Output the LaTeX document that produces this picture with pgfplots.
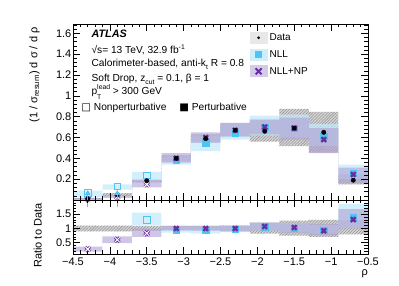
\documentclass[border=0pt]{standalone}
\usepackage{fontspec}
\setmainfont{Liberation Sans}
\setsansfont{Liberation Sans}
\newfontfamily\dejavu{DejaVu Sans}
\usepackage{pgfplots}
\usepackage{pgfplotstable}
\pgfplotsset{compat=1.18}
\usetikzlibrary{patterns,patterns.meta,arrows.meta}

\definecolor{nllc}{RGB}{80,195,245}
\definecolor{nllband}{RGB}{195,234,250}
\definecolor{npc}{RGB}{105,45,160}
\definecolor{npband}{RGB}{175,160,212}

% band outlines: upper edge (left to right), then lower edge (right to left), drawn as steps
\pgfplotstableread{
x y
-4.5 0.020
-4.1 0.065
-3.7 0.200
-3.3 0.428
-2.9 0.631
-2.5 0.737
-2.1 0.780
-1.7 0.876
-1.3 0.845
-0.9 0.245
-0.5 0.245
-0.5 0.150
-0.9 0.455
-1.3 0.518
-1.7 0.560
-2.1 0.603
-2.5 0.549
-2.9 0.372
-3.3 0.170
-3.7 0.035
-4.1 0.005
-4.5 0.005
}\topdata

\pgfplotstableread{
x y
-4.5 0.09
-4.1 0.15
-3.7 0.27
-3.3 0.42
-2.9 0.62
-2.5 0.74
-2.1 0.81
-1.7 0.82
-1.3 0.73
-0.9 0.34
-0.5 0.34
-0.5 0.20
-0.9 0.52
-1.3 0.60
-1.7 0.62
-2.1 0.58
-2.5 0.47
-2.9 0.34
-3.3 0.18
-3.7 0.10
-4.1 0.03
-4.5 0.03
}\topnll

\pgfplotstableread{
x y
-4.5 0.018
-4.1 0.045
-3.7 0.19
-3.3 0.45
-2.9 0.65
-2.5 0.74
-2.1 0.77
-1.7 0.79
-1.3 0.69
-0.9 0.31
-0.5 0.31
-0.5 0.16
-0.9 0.45
-1.3 0.58
-1.7 0.63
-2.1 0.61
-2.5 0.55
-2.9 0.36
-3.3 0.12
-3.7 0.02
-4.1 0.00
-4.5 0.00
}\topnp

\pgfplotstableread{
x d n p
-4.3 0.012 0.065 0.008
-3.9 0.050 0.130 0.030
-3.5 0.185 0.235 0.150
-3.1 0.400 0.380 0.400
-2.7 0.590 0.550 0.600
-2.3 0.670 0.640 0.670
-1.9 0.660 0.700 0.700
-1.5 0.690 0.690 0.690
-1.1 0.650 0.610 0.580
-0.7 0.190 0.255 0.245
}\toppts

\pgfplotstableread{
x y
-4.5 1.10
-4.1 1.10
-3.7 1.08
-3.3 1.07
-2.9 1.07
-2.5 1.10
-2.1 1.20
-1.7 1.27
-1.3 1.30
-0.9 1.29
-0.5 1.29
-0.5 0.79
-0.9 0.70
-1.3 0.75
-1.7 0.82
-2.1 0.90
-2.5 0.93
-2.9 0.93
-3.3 0.92
-3.7 0.90
-4.1 0.90
-4.5 0.90
}\ratdata

\pgfplotstableread{
x y
-3.7 1.56
-3.3 1.05
-2.9 1.05
-2.5 1.08
-2.1 1.20
-1.7 1.18
-1.3 1.12
-0.9 1.86
-0.5 1.86
-0.5 1.02
-0.9 0.82
-1.3 0.88
-1.7 0.95
-2.1 0.87
-2.5 0.82
-2.9 0.85
-3.3 1.10
-3.7 1.10
}\ratnll

\pgfplotstableread{
x y
-4.5 0.36
-4.1 0.72
-3.7 1.00
-3.3 1.10
-2.9 1.10
-2.5 1.10
-2.1 1.20
-1.7 1.18
-1.3 1.15
-0.9 1.68
-0.5 1.68
-0.5 1.00
-0.9 0.76
-1.3 0.85
-1.7 0.93
-2.1 0.90
-2.5 0.92
-2.9 0.93
-3.3 0.70
-3.7 0.48
-4.1 0.18
-4.5 0.18
}\ratnp

\pgfplotstableread{
x n p
-4.3 nan 0.27
-3.9 nan 0.60
-3.5 1.30 0.83
-3.1 0.95 1.00
-2.7 0.93 1.00
-2.3 0.96 1.00
-1.9 1.06 1.07
-1.5 1.00 1.03
-1.1 0.93 0.92
-0.7 1.38 1.31
}\ratpts

\pgfplotstableread{
x y v
-4.3 1.75 0.60
-3.9 1.75 0.60
}\ratarrows

\pgfplotsset{
  atlas/.style={
    scale only axis, width=295pt,
    xmin=-4.5, xmax=-0.5,
    xtick={-4.5,-4,-3.5,-3,-2.5,-2,-1.5,-1,-0.5},
    minor xtick={-4.5,-4.4,...,-0.5},
    tick align=inside, major tick length=7pt, minor tick length=3.5pt,
    tick style={black, line width=0.6pt},
    axis line style={line width=0.8pt},
    axis on top,
    tick label style={font=\fontsize{11}{13}\selectfont},
    every y tick label/.append style={inner xsep=1.5pt},
    /pgf/number format/assume math mode=true,
    label style={font=\fontsize{11}{13}\selectfont},
  },
  hatchband/.style={const plot, fill=gray!32, draw=none, postaction={pattern={Lines[angle=45,distance=2.1pt,line width=0.55pt]}, pattern color=gray!85}},
  nllbandst/.style={const plot, fill=nllband, fill opacity=0.75, draw=none},
  npbandst/.style={const plot, fill=npband, fill opacity=0.6, draw=none},
  swatch/.style={draw=none, draw opacity=0, line width=0pt, mark=none},
}
\newcommand{\txt}{\fontsize{10.2}{12}\selectfont}
\newcommand{\scr}{\fontsize{6.8}{7}\selectfont}

\begin{document}
\begin{tikzpicture}
\useasboundingbox (0pt,0pt) rectangle (399pt,286pt);

% ---------------- top panel ----------------
\begin{axis}[atlas,
  at={(73pt,86pt)}, anchor=south west, height=176pt,
  ymin=0, ymax=1.69,
  xticklabels={},
  ytick={0,0.2,0.4,0.6,0.8,1,1.2,1.4,1.6},
  yticklabels={,0.2,0.4,0.6,0.8,1,1.2,1.4,1.6},
  minor ytick={0,0.04,...,1.68},
  ylabel={(1 / σ\textsubscript{resum}) d σ / d ρ},
  ylabel style={at={(axis description cs:-0.13,1)}, anchor=east},
  legend style={at={(axis description cs:0.598,0.958)}, anchor=north west, draw=none, fill=none, inner sep=0pt,
    font=\fontsize{10}{11}\selectfont, row sep=4.4pt},
  legend cell align=left,
]
\addplot[hatchband, forget plot] table[x=x,y=y]{\topdata};
\addplot[nllbandst, forget plot] table[x=x,y=y]{\topnll};
\addplot[npbandst, forget plot] table[x=x,y=y]{\topnp};

% NLL markers
\addplot[forget plot, only marks, mark=square, mark size=3.3pt, nllc, mark options={line width=0.9pt}, restrict x to domain=-5:-3.3] table[x=x,y=n]{\toppts};
\addplot[forget plot, only marks, mark=square*, mark size=3.1pt, nllc, restrict x to domain=-3.3:0] table[x=x,y=n]{\toppts};
% NLL+NP markers
\addplot[forget plot, only marks, mark=x, mark size=3.4pt, npc, mark options={line width=2.6pt}, restrict x to domain=-5:-3.3] table[x=x,y=p]{\toppts};
\addplot[forget plot, only marks, mark=x, mark size=3.4pt, white, mark options={line width=1.0pt}, restrict x to domain=-5:-3.3] table[x=x,y=p]{\toppts};
\addplot[forget plot, only marks, mark=x, mark size=3.3pt, npc, mark options={line width=2.3pt}, restrict x to domain=-3.3:0] table[x=x,y=p]{\toppts};
% Data
\addplot[forget plot, only marks, mark=*, mark size=2.2pt, black] table[x=x,y=d]{\toppts};

% legend
\addlegendimage{swatch, legend image code/.code={
  \path[fill=gray!18, draw=none] (0pt,-6pt) rectangle (18pt,6pt);
  \path[draw=none, pattern={Lines[angle=45,distance=2.2pt,line width=0.45pt]}, pattern color=gray!65] (0pt,-6pt) rectangle (18pt,6pt);
  \path[fill=black, draw=none] (9pt,0pt) circle (1.5pt);}}
\addlegendentry{Data}
\addlegendimage{swatch, legend image code/.code={
  \path[fill=nllband!80, draw=none] (0pt,-6pt) rectangle (18pt,6pt);
  \path[fill=nllc, draw=none] (5.5pt,-3.5pt) rectangle (12.5pt,3.5pt);}}
\addlegendentry{NLL}
\addlegendimage{swatch, legend image code/.code={
  \path[fill=npband!55, draw=none] (0pt,-6pt) rectangle (18pt,6pt);
  \path[draw=npc, draw opacity=1, line width=2pt] (6pt,-3pt) -- (12pt,3pt) (6pt,3pt) -- (12pt,-3pt);}}
\addlegendentry{NLL+NP}

\node[anchor=base west, font=\fontsize{10.8}{12}\selectfont\bfseries\itshape] at (axis description cs:0.051,0.926) {ATLAS};
\node[anchor=base west, font=\txt] at (axis description cs:0.051,0.835) {√s= 13 TeV, 32.9 fb\raisebox{4pt}{\scr -1}};
\node[anchor=base west, font=\txt] at (axis description cs:0.051,0.756) {Calorimeter-based, anti-k\raisebox{-3pt}{\scr t} R = 0.8};
\node[anchor=base west, font=\txt] at (axis description cs:0.051,0.676) {Soft Drop, z\raisebox{-3.5pt}{\scr cut} = 0.1, β = 1};
\node[anchor=base west, font=\txt] at (axis description cs:0.051,0.599) {p\rlap{\raisebox{-4.5pt}{\scr T}}\raisebox{5.5pt}{\scr lead} > 300 GeV};
\node[anchor=base west, font=\txt, inner xsep=0pt] at (axis description cs:0.028,0.511) {{\dejavu □} Nonperturbative};
\node[anchor=base west, font=\txt, inner xsep=0pt] at (axis description cs:0.36,0.511) {{\dejavu ■} Perturbative};
\end{axis}

% ---------------- ratio panel ----------------
\begin{axis}[atlas,
  at={(73pt,32pt)}, anchor=south west, height=54pt,
  ymin=0.1, ymax=2.0, clip=false,
  xticklabels={−4.5,−4,−3.5,−3,−2.5,−2,−1.5,−1,−0.5},
  ytick={0.5,1,1.5}, yticklabels={0.5,1,1.5},
  minor ytick={0.1,0.2,...,2.0},
  ylabel={Ratio to Data},
  ylabel style={at={(axis description cs:-0.12,1)}, anchor=east},
  xlabel={ρ},
  xlabel style={at={(axis description cs:1,0)}, anchor=north east, yshift=-14pt, inner xsep=0pt, inner ysep=1pt},
]
\addplot[hatchband] table[x=x,y=y]{\ratdata};
\addplot[nllbandst] table[x=x,y=y]{\ratnll};
\addplot[npbandst] table[x=x,y=y]{\ratnp};

\addplot[only marks, mark=square, mark size=3.3pt, nllc, mark options={line width=0.9pt}, restrict x to domain=-5:-3.3] table[x=x,y=n]{\ratpts};
\addplot[only marks, mark=square*, mark size=3.1pt, nllc, restrict x to domain=-3.3:0] table[x=x,y=n]{\ratpts};
\addplot[only marks, mark=x, mark size=3.4pt, npc, mark options={line width=2.6pt}, restrict x to domain=-5:-3.3] table[x=x,y=p]{\ratpts};
\addplot[only marks, mark=x, mark size=3.4pt, white, mark options={line width=1.0pt}, restrict x to domain=-5:-3.3] table[x=x,y=p]{\ratpts};
\addplot[only marks, mark=x, mark size=3.3pt, npc, mark options={line width=2.3pt}, restrict x to domain=-3.3:0] table[x=x,y=p]{\ratpts};
\addplot[nllc, line width=1pt, mark=none, quiver={u=0, v=\thisrow{v}, every arrow/.append style={-{Triangle[length=5pt,width=5.5pt]}}}] table[x=x,y=y]{\ratarrows};
\end{axis}
\end{tikzpicture}
\end{document}
